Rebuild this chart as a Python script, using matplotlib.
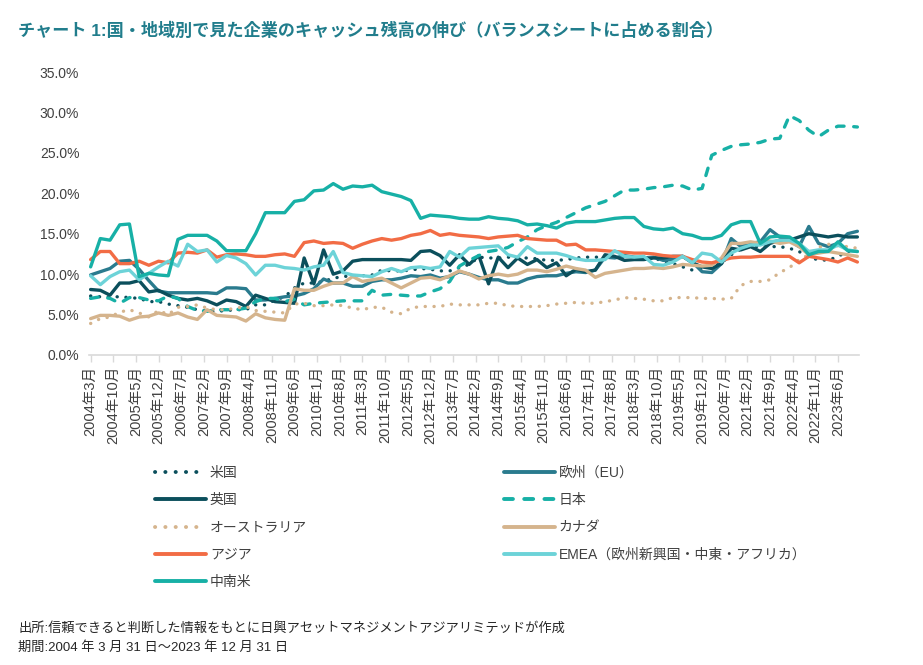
import matplotlib
matplotlib.use("Agg")
import matplotlib.pyplot as plt
import numpy as np

plt.rcParams['font.family'] = ['Liberation Sans', 'Noto Sans CJK JP', 'DejaVu Sans']

# quarterly values (% of balance sheet), 2004-03 .. 2023-12
us = [7.3, 7.2, 7.2, 7.2, 7.1, 7.0, 6.6, 6.6, 6.3, 6.1, 5.9, 5.6, 5.4, 5.4, 5.5, 5.6, 5.6, 6.2, 6.2, 6.8,
      7.2, 8.3, 8.9, 8.9, 9.1, 9.5, 9.7, 9.8, 9.8, 9.9, 10.5, 10.4, 10.4, 10.5, 10.7, 10.6, 10.4, 10.4, 10.8, 11.2,
      12.1, 12.0, 12.0, 12.1, 12.0, 12.0, 11.9, 11.7, 11.7, 11.8, 12.0, 12.1, 12.1, 12.1, 12.1, 12.1, 12.1, 12.0, 12.0, 11.6,
      11.3, 10.9, 10.5, 10.6, 10.9, 11.4, 12.4, 13.1, 13.4, 13.4, 13.4, 13.4, 13.2, 12.8, 12.0, 11.8, 11.7, 12.2, 12.8, 13.0]
eu = [9.9, 10.3, 10.7, 11.6, 11.7, 10.6, 9.2, 7.9, 7.7, 7.7, 7.7, 7.7, 7.7, 7.6, 8.3, 8.3, 8.2, 6.8, 6.8, 7.0,
      7.2, 7.3, 7.6, 8.2, 9.4, 8.9, 8.9, 8.5, 8.5, 9.1, 9.3, 9.3, 9.5, 9.8, 9.7, 9.9, 9.5, 9.7, 10.3, 10.0,
      9.6, 9.3, 9.3, 8.9, 8.9, 9.4, 9.7, 9.8, 9.8, 10.1, 10.3, 10.2, 10.5, 12.1, 12.0, 12.3, 12.1, 12.0, 12.1, 11.7,
      11.8, 12.2, 11.5, 10.3, 10.2, 11.3, 14.4, 13.4, 13.8, 14.0, 15.5, 14.6, 14.2, 13.4, 15.9, 13.8, 13.4, 13.8, 15.0, 15.3]
uk = [8.1, 8.0, 7.4, 8.9, 8.9, 9.2, 7.8, 8.0, 7.4, 7.0, 6.8, 7.0, 6.7, 6.2, 6.8, 6.6, 6.0, 7.4, 7.0, 6.6,
      6.5, 6.4, 12.0, 8.8, 13.0, 10.0, 10.4, 11.6, 11.8, 11.8, 11.8, 11.8, 11.8, 11.7, 12.8, 12.9, 12.3, 11.1, 12.4, 11.2,
      12.3, 8.8, 12.1, 10.8, 12.0, 11.2, 11.8, 10.8, 11.4, 9.8, 10.6, 10.3, 10.5, 12.4, 12.2, 11.7, 11.8, 11.8, 12.0, 12.0,
      12.2, 12.2, 11.4, 10.9, 10.7, 11.3, 13.2, 13.0, 13.4, 12.8, 13.8, 14.2, 14.2, 14.6, 15.0, 14.8, 14.6, 14.8, 14.6, 14.6]
japan = [7.0, 7.2, 7.0, 6.4, 7.1, 7.1, 6.8, 6.7, 7.3, 7.0, 6.0, 5.5, 5.4, 5.6, 5.6, 5.6, 5.8, 6.6, 7.0, 7.0,
         6.6, 6.9, 6.2, 6.4, 6.5, 6.6, 6.7, 6.7, 6.7, 8.0, 7.4, 7.5, 7.4, 7.3, 7.3, 7.8, 8.2, 9.1, 11.0, 11.7,
         12.3, 12.8, 13.0, 13.3, 14.0, 14.6, 15.5, 16.0, 16.4, 17.0, 17.6, 18.2, 18.6, 19.0, 19.7, 20.4, 20.4, 20.5, 20.7, 20.8,
         21.0, 20.9, 20.4, 20.6, 24.7, 25.3, 25.8, 26.0, 26.1, 26.3, 26.7, 26.8, 29.6, 29.0, 27.8, 27.0, 27.8, 28.3, 28.3, 28.2]
australia = [3.9, 4.5, 4.7, 5.3, 5.6, 5.2, 4.7, 5.5, 5.0, 5.9, 6.0, 6.2, 5.8, 5.6, 5.6, 5.8, 6.0, 5.5, 5.4, 5.3,
             5.2, 6.3, 6.4, 6.1, 6.1, 6.2, 6.1, 5.8, 5.6, 5.9, 5.9, 5.3, 5.1, 5.8, 6.0, 6.0, 6.0, 6.3, 6.2, 6.2,
             6.2, 6.4, 6.4, 6.1, 6.0, 6.0, 6.0, 6.1, 6.3, 6.4, 6.5, 6.4, 6.4, 6.6, 6.8, 7.1, 7.0, 6.9, 6.7, 6.7,
             7.1, 7.1, 7.1, 7.0, 7.0, 6.9, 7.0, 8.6, 9.1, 9.1, 9.3, 10.2, 10.8, 11.8, 12.4, 13.3, 13.7, 13.5, 13.4, 13.2]
canada = [4.5, 4.9, 4.9, 4.8, 4.3, 4.7, 4.8, 5.2, 4.9, 5.2, 4.7, 4.4, 5.6, 4.9, 4.8, 4.7, 4.2, 5.1, 4.6, 4.4,
          4.3, 8.2, 8.0, 8.0, 8.5, 8.9, 8.9, 9.7, 9.1, 9.3, 9.5, 8.9, 8.3, 8.9, 9.5, 9.6, 9.3, 9.8, 10.4, 10.0,
          9.4, 9.8, 10.0, 9.8, 10.0, 10.5, 10.5, 10.3, 10.6, 11.0, 10.7, 10.5, 9.6, 10.1, 10.3, 10.5, 10.7, 10.7, 10.8, 10.7,
          10.9, 11.2, 11.1, 11.0, 11.1, 12.0, 13.8, 13.8, 14.0, 13.8, 14.1, 13.8, 14.0, 13.4, 12.4, 12.6, 12.8, 12.6, 12.4, 12.2]
asia = [11.8, 12.8, 12.8, 11.3, 11.3, 11.6, 11.1, 11.6, 11.4, 12.6, 12.7, 12.6, 13.0, 12.1, 12.4, 12.5, 12.4, 12.2, 12.2, 12.4,
        12.5, 12.2, 13.9, 14.1, 13.8, 13.9, 13.8, 13.2, 13.7, 14.1, 14.4, 14.2, 14.4, 14.8, 15.0, 15.4, 14.8, 15.0, 14.8, 14.7,
        14.6, 14.4, 14.6, 14.7, 14.8, 14.4, 14.3, 14.2, 14.2, 13.6, 13.7, 13.0, 13.0, 12.9, 12.8, 12.7, 12.6, 12.6, 12.5, 12.3,
        12.2, 12.2, 11.8, 11.5, 11.4, 11.7, 12.0, 12.1, 12.1, 12.2, 12.2, 12.2, 12.2, 11.4, 12.2, 12.0, 11.8, 11.5, 12.0, 11.5]
emea = [9.8, 8.7, 9.7, 10.3, 10.5, 9.3, 10.1, 10.9, 11.6, 11.0, 13.7, 12.8, 13.0, 11.5, 12.3, 12.0, 11.3, 9.9, 11.1, 11.1,
        10.8, 10.7, 10.5, 10.9, 11.1, 12.8, 10.2, 9.9, 9.8, 9.7, 10.3, 10.7, 10.3, 10.8, 10.9, 10.7, 10.9, 12.8, 12.1, 13.2,
        13.3, 13.4, 13.5, 12.4, 12.1, 13.4, 12.6, 12.6, 12.6, 12.3, 11.9, 11.7, 11.7, 11.8, 12.9, 12.2, 12.1, 12.2, 11.2, 11.1,
        11.5, 12.2, 11.4, 12.6, 12.4, 11.5, 12.6, 13.2, 13.6, 13.6, 14.0, 14.2, 14.2, 13.8, 12.8, 13.0, 13.0, 13.6, 13.0, 12.8]
latam = [10.9, 14.4, 14.2, 16.1, 16.2, 9.7, 10.1, 9.9, 9.8, 14.3, 14.8, 14.8, 14.8, 14.1, 12.9, 12.9, 12.9, 15.0, 17.6, 17.6,
         17.6, 19.0, 19.2, 20.3, 20.4, 21.2, 20.5, 20.9, 20.8, 21.0, 20.2, 19.9, 19.6, 19.1, 16.9, 17.3, 17.2, 17.1, 16.9, 16.8,
         16.8, 17.1, 16.9, 16.8, 16.6, 16.1, 16.2, 16.0, 15.7, 16.3, 16.5, 16.5, 16.5, 16.7, 16.9, 17.0, 17.0, 15.9, 15.6, 15.5,
         15.7, 15.0, 14.8, 14.4, 14.4, 14.8, 16.1, 16.5, 16.5, 13.8, 14.6, 14.7, 14.6, 13.8, 12.4, 12.8, 12.8, 14.0, 12.9, 12.8]

# months since 2004-03 for each quarter end
months = np.arange(len(us)) * 3
n_months = 238
tick_months = list(range(0, n_months, 7))
tick_labels = [f"{2004 + (2 + m) // 12}年{(2 + m) % 12 + 1}月" for m in tick_months]

dark = "#0B4F5C"
steel = "#2A7B8E"
teal = "#17B0A6"
tan = "#D5B48D"
orange = "#F26C45"
cyan = "#6DD3D8"

dotted = (0, (0.05, 2.6))
dashed = (0, (2.3, 2.9))

series = [
    ("米国", us, dark, dotted),
    ("欧州（EU）", eu, steel, "-"),
    ("英国", uk, dark, "-"),
    ("日本", japan, teal, dashed),
    ("オーストラリア", australia, tan, dotted),
    ("カナダ", canada, tan, "-"),
    ("アジア", asia, orange, "-"),
    ("EMEA（欧州新興国・中東・アフリカ）", emea, cyan, "-"),
    ("中南米", latam, teal, "-"),
]

fig = plt.figure(figsize=(9.23, 6.65), dpi=100)
ax = fig.add_axes([89 / 923, 1 - 355 / 665, (859 - 89) / 923, (355 - 72) / 665])

handles = {}
for name, vals, color, ls in series:
    line, = ax.plot(months, vals, color=color, lw=2.4, linestyle=ls,
                    dash_capstyle="round", solid_capstyle="round", solid_joinstyle="round")
    handles[name] = line

ax.set_xlim(-0.5, n_months - 0.5)
ax.set_ylim(0, 35)
ax.set_yticks(np.arange(0, 36, 5))
ax.set_yticklabels([f"{v:.1f}%" for v in np.arange(0, 36, 5)])
ax.set_xticks(tick_months)
ax.set_xticklabels(tick_labels, rotation=90)

for side in ["top", "right", "left"]:
    ax.spines[side].set_visible(False)
ax.spines["bottom"].set_color("#D9D9D9")
ax.spines["bottom"].set_linewidth(1.2)
ax.tick_params(axis="y", length=0, pad=7, labelsize=10, labelcolor="#404040")
ax.tick_params(axis="x", length=5, width=1.0, color="#D9D9D9", pad=3, labelsize=10.5, labelcolor="#404040")

# two legend columns placed separately
left_names = ["米国", "英国", "オーストラリア", "アジア", "中南米"]
right_names = ["欧州（EU）", "日本", "カナダ", "EMEA（欧州新興国・中東・アフリカ）"]
for names, x0 in [(left_names, 155), (right_names, 504)]:
    leg = fig.legend([handles[k] for k in names], names, loc="upper left",
                     bbox_to_anchor=(x0 / 923, 1 - 466 / 665), frameon=False,
                     fontsize=10, handlelength=3.7, handletextpad=0.25,
                     labelspacing=0.95, borderpad=0, borderaxespad=0)
    for t in leg.get_texts():
        t.set_color("#404040")
    for h in leg.get_lines():
        h.set_linewidth(2.8)

fig.text(18 / 923, 1 - 30 / 665,
         "チャート 1:国・地域別で見た企業のキャッシュ残高の伸び（バランスシートに占める割合）",
         fontsize=12.3, fontweight="bold", color="#217D8C", va="center", ha="left")
fig.text(18 / 923, 1 - 628 / 665,
         "出所:信頼できると判断した情報をもとに日興アセットマネジメントアジアリミテッドが作成",
         fontsize=9.5, color="#262626", va="center", ha="left")
fig.text(18 / 923, 1 - 648 / 665,
         "期間:2004 年 3 月 31 日～2023 年 12 月 31 日",
         fontsize=9.5, color="#262626", va="center", ha="left")

fig.savefig("out.png", dpi=100, facecolor="white")
